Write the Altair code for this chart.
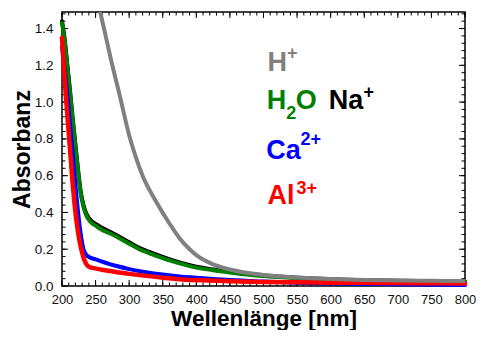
import altair as alt
import pandas as pd

# ---------------- data ----------------
wl_na = [200, 204, 208, 212, 216, 220, 224, 228, 232, 236, 240, 245, 250, 260, 270, 280, 290, 300,
         315, 330, 350, 375, 400, 425, 450, 475, 500, 550, 600, 650, 700, 750, 800]
a_na = [1.44, 1.34, 1.20, 1.06, 0.91, 0.77, 0.63, 0.51, 0.44, 0.395, 0.37, 0.35, 0.338, 0.315, 0.297,
        0.278, 0.258, 0.238, 0.208, 0.185, 0.158, 0.128, 0.105, 0.09, 0.078, 0.066, 0.057, 0.045,
        0.037, 0.031, 0.028, 0.026, 0.025]

wl_h2o = [200, 204, 208, 212, 216, 220, 224, 228, 232, 236, 240, 245, 250, 260, 270, 280, 290, 300,
          315, 330, 350, 375, 400, 425, 450, 475, 500, 550, 600, 650, 700, 750, 800]
a_h2o = [1.43, 1.33, 1.19, 1.05, 0.90, 0.76, 0.62, 0.50, 0.43, 0.385, 0.36, 0.34, 0.328, 0.305, 0.288,
         0.27, 0.25, 0.23, 0.20, 0.178, 0.152, 0.123, 0.10, 0.086, 0.074, 0.063, 0.054, 0.043,
         0.035, 0.03, 0.027, 0.025, 0.024]

wl_ca = [200, 204, 208, 212, 216, 220, 224, 228, 232, 236, 240, 250, 260, 270, 280, 300, 325, 350,
         375, 400, 425, 450, 500, 550, 600, 650, 700, 750, 800]
a_ca = [1.30, 1.18, 1.04, 0.88, 0.72, 0.55, 0.40, 0.28, 0.20, 0.17, 0.158, 0.145, 0.132, 0.12, 0.11,
        0.092, 0.075, 0.062, 0.052, 0.045, 0.038, 0.032, 0.024, 0.018, 0.014, 0.011, 0.009, 0.007, 0.006]

wl_al = [200, 203, 206, 209, 212, 216, 220, 224, 228, 232, 236, 240, 248, 260, 280, 300, 325, 350,
         375, 400, 450, 500, 550, 600, 650, 700, 750, 800]
a_al = [1.35, 1.18, 1.02, 0.88, 0.74, 0.55, 0.40, 0.29, 0.21, 0.155, 0.12, 0.105, 0.097, 0.088, 0.076,
        0.066, 0.055, 0.045, 0.037, 0.032, 0.026, 0.022, 0.02, 0.018, 0.017, 0.016, 0.015, 0.014]

wl_h = [250, 257, 265, 273, 287, 300, 310, 320, 340, 360, 375, 390, 400, 425, 450, 475, 500, 550,
        600, 650, 700, 750, 800]
a_h = [1.62, 1.49, 1.36, 1.23, 1.02, 0.82, 0.70, 0.60, 0.46, 0.34, 0.26, 0.20, 0.168, 0.118, 0.09,
       0.072, 0.06, 0.046, 0.038, 0.033, 0.03, 0.028, 0.027]

# annotation labels
lab_text = ["H", "+", "H", "2", "O", "Na", "+", "Ca", "2+", "Al", "3+"]
lab_x = [506, 535, 505, 534, 548, 597, 649, 504, 555, 506, 549]
lab_y = [1.170, 1.234, 0.962, 0.908, 0.962, 0.962, 1.024, 0.690, 0.766, 0.446, 0.502]
lab_color = ["#808080", "#808080", "#008000", "#008000", "#008000", "#000000", "#000000",
             "#0000ff", "#0000ff", "#ff0000", "#ff0000"]
lab_size = [27, 18, 27, 18, 27, 27, 18, 27, 18, 27, 18]

x_major = [200, 250, 300, 350, 400, 450, 500, 550, 600, 650, 700, 750, 800]
x_minor = list(range(200, 801, 10))
y_major = [0.0, 0.2, 0.4, 0.6, 0.8, 1.0, 1.2, 1.4]
y_minor = [round(i * 0.04, 2) for i in range(0, 38)]

# ---------------- chart ----------------
W, H = 403, 274
FONT = "Liberation Sans"
MAJOR, MINOR = 6, 3.5
xs = alt.Scale(domain=[200, 800], nice=False, zero=False)
ys = alt.Scale(domain=[0, 1.49], nice=False, zero=False)


def frame(wl, a):
    return pd.DataFrame({"wl": wl, "a": a})


main_x = alt.Axis(values=x_major, ticks=False, domain=False, grid=False, labelFontSize=13,
                  labelFont=FONT, labelColor="#111111", labelPadding=7, title="Wellenlänge [nm]",
                  titleFont=FONT, titleFontSize=22.5, titleFontWeight="bold", titleColor="#000000",
                  titlePadding=1, format="d", labelFlush=False)
main_y = alt.Axis(values=y_major, ticks=False, domain=False, grid=False, labelFontSize=13.5,
                  labelFont=FONT, labelColor="#111111", labelPadding=9, title="Absorbanz",
                  titleFont=FONT, titleFontSize=23, titleFontWeight="bold", titleColor="#000000",
                  titlePadding=0, format=".1f", labelFlush=False)


def line_layer(wl, a, color, width, xaxis=None, yaxis=None, clip=False):
    return alt.Chart(frame(wl, a)).mark_line(color=color, strokeWidth=width, clip=clip,
                                             interpolate="monotone",
                                             strokeJoin="round", strokeCap="round").encode(
        x=alt.X("wl:Q", scale=xs, axis=xaxis),
        y=alt.Y("a:Q", scale=ys, axis=yaxis),
        order="wl:Q",
    )


def xticks(values, length, top):
    y0, y1 = (0, length) if top else (H, H - length)
    return alt.Chart(pd.DataFrame({"v": values})).mark_rule(color="#000000", strokeWidth=1).encode(
        x=alt.X("v:Q", scale=xs, axis=None), y=alt.value(y0), y2=alt.value(y1))


def yticks(values, length, right):
    x0, x1 = (W, W - length) if right else (0, length)
    return alt.Chart(pd.DataFrame({"v": values})).mark_rule(color="#000000", strokeWidth=1).encode(
        y=alt.Y("v:Q", scale=ys, axis=None), x=alt.value(x0), x2=alt.value(x1))


na_layer = line_layer(wl_na, a_na, "#000000", 4, xaxis=main_x, yaxis=main_y)
h2o_layer = line_layer(wl_h2o, a_h2o, "#008000", 4)
ca_layer = line_layer(wl_ca, a_ca, "#0000ff", 4)
al_layer = line_layer(wl_al, a_al, "#ff0000", 4.5)
h_layer = line_layer(wl_h, a_h, "#808080", 4, clip=True)

tick_layers = [
    xticks(x_minor, MINOR, False), xticks(x_major, MAJOR, False),
    xticks(x_minor, MINOR, True), xticks(x_major, MAJOR, True),
    yticks(y_minor, MINOR, False), yticks(y_major, MAJOR, False),
    yticks(y_minor, MINOR, True), yticks(y_major, MAJOR, True),
]

labels = alt.Chart(pd.DataFrame({"t": lab_text, "x": lab_x, "y": lab_y, "c": lab_color,
                                 "s": lab_size})).mark_text(
    align="left", baseline="alphabetic", font=FONT, fontWeight="bold").encode(
    x=alt.X("x:Q", scale=xs, axis=None),
    y=alt.Y("y:Q", scale=ys, axis=None),
    text="t:N",
    color=alt.Color("c:N", scale=None),
    size=alt.Size("s:Q", scale=None),
)

chart = alt.layer(na_layer, *tick_layers, h2o_layer, ca_layer, al_layer, h_layer, labels).resolve_axis(
    x="independent", y="independent"
).properties(
    width=W, height=H,
    autosize=alt.AutoSizeParams(type="none"),
    padding={"left": 54, "top": 4, "right": 11, "bottom": 44},
    background="white",
).configure_view(stroke="#000000", strokeWidth=1.5)

chart.save("out.html", embed_options={"renderer": "svg", "actions": False})
